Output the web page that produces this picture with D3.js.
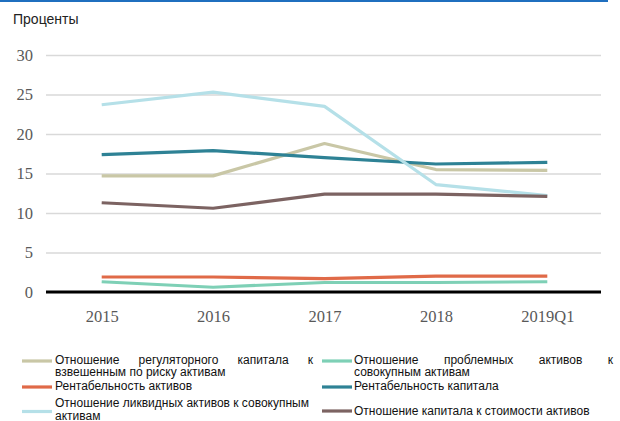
<!DOCTYPE html>
<html>
<head>
<meta charset="utf-8">
<script src="https://cdn.jsdelivr.net/npm/d3@7"></script>
<style>
  body { margin: 0; background: #fff; }
  svg { display: block; }
</style>
</head>
<body>
<div id="chart"></div>
<script>
// data
var categories = ["2015", "2016", "2017", "2018", "2019Q1"];
var regCapital = [14.7, 14.7, 18.8, 15.5, 15.4];
var npl = [1.3, 0.6, 1.2, 1.2, 1.3];
var roa = [1.9, 1.9, 1.7, 2.0, 2.0];
var roe = [17.4, 17.9, 17.0, 16.2, 16.4];
var liquid = [23.7, 25.3, 23.5, 13.6, 12.2];
var capToAssets = [11.3, 10.6, 12.4, 12.4, 12.1];
var yTicks = [0, 5, 10, 15, 20, 25, 30];

var series = [
  { name: "Отношение регуляторного капитала к взвешенным по риску активам", values: regCapital, color: "#c9c7a6" },
  { name: "Отношение проблемных активов к совокупным активам", values: npl, color: "#7ed0b6" },
  { name: "Рентабельность активов", values: roa, color: "#e06a48" },
  { name: "Рентабельность капитала", values: roe, color: "#2e8295" },
  { name: "Отношение ликвидных активов к совокупным активам", values: liquid, color: "#b5e0e8" },
  { name: "Отношение капитала к стоимости активов", values: capToAssets, color: "#7c6362" }
];

var svgWidth = 620;
var svgHeight = 421;
var plotLeft = 46, plotRight = 601, plotTop = 55, plotBottom = 292;

var svg = d3.select("#chart")
  .append("svg")
  .attr("width", svgWidth)
  .attr("height", svgHeight);

// blue rule across the top
svg.append("line")
  .attr("x1", 0).attr("x2", 608)
  .attr("y1", 1).attr("y2", 1)
  .attr("stroke", "#1f6fbf")
  .attr("stroke-width", 2);

svg.append("text")
  .attr("x", 13)
  .attr("y", 24)
  .style("font-family", "Liberation Sans, Arial, sans-serif")
  .style("font-size", "14px")
  .style("fill", "#222")
  .text("Проценты");

// scales
var x = d3.scalePoint()
  .domain(categories)
  .range([plotLeft, plotRight + 2])
  .padding(0.5);

var y = d3.scaleLinear()
  .domain([0, 30])
  .range([plotBottom, plotTop]);

// y axis with gridlines
var yAxis = svg.append("g")
  .attr("transform", `translate(${plotLeft}, 0)`)
  .call(d3.axisLeft(y).tickValues(yTicks).tickSize(-(plotRight - plotLeft)).tickPadding(13));

yAxis.select(".domain").remove();
yAxis.selectAll(".tick line")
  .attr("stroke", "#d9d9d9")
  .attr("stroke-width", 1.3);
yAxis.selectAll(".tick text")
  .style("font-family", "Liberation Serif, Times New Roman, serif")
  .style("font-size", "16.5px")
  .style("fill", "#595959");

// x axis labels
var xAxis = svg.append("g")
  .attr("transform", `translate(0, ${plotBottom})`)
  .call(d3.axisBottom(x).tickSize(0).tickPadding(18));

xAxis.select(".domain").remove();
xAxis.selectAll(".tick text")
  .style("font-family", "Liberation Serif, Times New Roman, serif")
  .style("font-size", "16.5px")
  .style("fill", "#595959");

// lines
var line = d3.line()
  .x((d, i) => x(categories[i]))
  .y(d => y(d));

svg.selectAll(".series")
  .data(series)
  .enter()
  .append("path")
  .attr("class", "series")
  .attr("d", d => line(d.values))
  .attr("fill", "none")
  .attr("stroke", d => d.color)
  .attr("stroke-width", 3.2)
  .attr("stroke-linejoin", "round");

// zero line
svg.append("line")
  .attr("x1", plotLeft).attr("x2", plotRight)
  .attr("y1", y(0)).attr("y2", y(0))
  .attr("stroke", "#000")
  .attr("stroke-width", 3);

// legend
var legendFont = "Liberation Sans, Arial, sans-serif";
var legendItems = [
  { s: 0, sx: 22, sy: 361, tx: 55, edge: 313, lines: [["Отношение", "регуляторного", "капитала", "к"], "взвешенным по риску активам"], y0: 363.5 },
  { s: 1, sx: 322, sy: 361, tx: 354, edge: 613, lines: [["Отношение", "проблемных", "активов", "к"], "совокупным активам"], y0: 363.5 },
  { s: 2, sx: 22, sy: 387, tx: 55, lines: ["Рентабельность активов"], y0: 390 },
  { s: 3, sx: 322, sy: 387, tx: 354, lines: ["Рентабельность капитала"], y0: 390 },
  { s: 4, sx: 22, sy: 411.5, tx: 55, lines: ["Отношение ликвидных активов к совокупным", "активам"], y0: 407 },
  { s: 5, sx: 322, sy: 411, tx: 354, lines: ["Отношение капитала к стоимости активов"], y0: 415 }
];

var legend = svg.append("g");

legendItems.forEach(function(item) {
  legend.append("line")
    .attr("x1", item.sx).attr("x2", item.sx + 30)
    .attr("y1", item.sy).attr("y2", item.sy)
    .attr("stroke", series[item.s].color)
    .attr("stroke-width", 3.2);

  item.lines.forEach(function(ln, k) {
    var yy = item.y0 + k * 12.5;
    if (Array.isArray(ln)) {
      // justified first line: spread the words to the column edge
      var words = ln.map(function(w) {
        return legend.append("text")
          .attr("y", yy)
          .style("font-family", legendFont)
          .style("font-size", "12px")
          .style("fill", "#111")
          .text(w);
      });
      var widths = words.map(t => t.node().getComputedTextLength());
      var gap = (item.edge - item.tx - d3.sum(widths)) / (words.length - 1);
      var xx = item.tx;
      words.forEach(function(t, i) {
        t.attr("x", xx);
        xx += widths[i] + gap;
      });
    } else {
      legend.append("text")
        .attr("x", item.tx)
        .attr("y", yy)
        .style("font-family", legendFont)
        .style("font-size", "12px")
        .style("fill", "#111")
        .text(ln);
    }
  });
});
</script>
</body>
</html>
